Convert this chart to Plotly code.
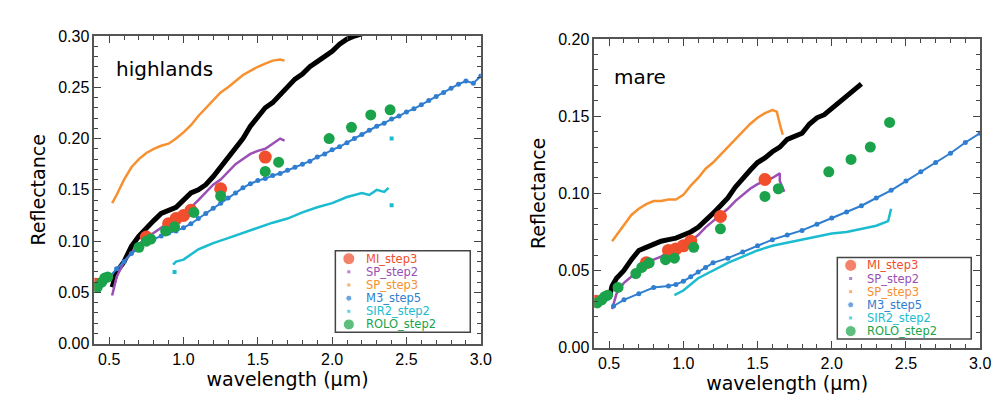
import plotly.graph_objects as go

# ---------------- highlands ----------------
h_lab_x = [0.52,0.55,0.6,0.65,0.7,0.75,0.8,0.85,0.9,0.95,1.0,1.05,1.1,1.15,1.2,1.25,1.3,1.35,1.4,1.45,1.5,1.55,1.6,1.65,1.7,1.75,1.8,1.85,1.9,1.95,2.0,2.05,2.1,2.15,2.2]
h_lab_y = [0.055,0.07,0.08,0.095,0.105,0.113,0.12,0.127,0.13,0.133,0.14,0.147,0.15,0.155,0.163,0.172,0.182,0.19,0.2,0.212,0.222,0.23,0.235,0.243,0.25,0.258,0.263,0.27,0.275,0.28,0.285,0.292,0.297,0.3,0.302]
h_sp3_x = [0.52,0.55,0.6,0.65,0.7,0.75,0.8,0.85,0.9,0.95,1.0,1.05,1.1,1.15,1.2,1.25,1.3,1.35,1.4,1.45,1.5,1.55,1.6,1.65,1.68]
h_sp3_y = [0.137,0.145,0.16,0.172,0.18,0.186,0.19,0.193,0.195,0.2,0.206,0.213,0.222,0.23,0.238,0.245,0.25,0.256,0.262,0.266,0.27,0.273,0.276,0.277,0.276]
h_sp2_x = [0.52,0.55,0.6,0.65,0.7,0.75,0.8,0.85,0.9,0.95,1.0,1.05,1.1,1.15,1.2,1.25,1.3,1.35,1.4,1.45,1.5,1.55,1.6,1.65,1.68]
h_sp2_y = [0.047,0.065,0.08,0.088,0.097,0.103,0.108,0.113,0.118,0.123,0.128,0.133,0.14,0.148,0.155,0.16,0.168,0.175,0.18,0.185,0.188,0.19,0.195,0.2,0.198]
h_m3_x = [0.5,0.55,0.6,0.65,0.7,0.75,0.8,0.85,0.9,0.95,1.0,1.05,1.1,1.15,1.2,1.25,1.3,1.35,1.4,1.45,1.5,1.55,1.6,1.65,1.7,1.75,1.8,1.85,1.9,1.95,2.0,2.05,2.1,2.15,2.2,2.25,2.3,2.35,2.4,2.45,2.5,2.55,2.6,2.65,2.7,2.75,2.8,2.85,2.9,2.95,3.0]
h_m3_y = [0.065,0.073,0.08,0.088,0.093,0.098,0.102,0.105,0.108,0.11,0.113,0.117,0.122,0.127,0.132,0.137,0.142,0.147,0.152,0.156,0.159,0.161,0.164,0.166,0.169,0.172,0.175,0.178,0.182,0.185,0.189,0.192,0.196,0.2,0.204,0.208,0.212,0.215,0.219,0.222,0.226,0.229,0.233,0.237,0.241,0.245,0.249,0.253,0.256,0.254,0.261]
h_sir_x = [0.93,0.95,1.0,1.05,1.1,1.15,1.2,1.3,1.4,1.5,1.6,1.7,1.8,1.9,2.0,2.1,2.2,2.25,2.3,2.35,2.38]
h_sir_y = [0.077,0.08,0.082,0.087,0.092,0.095,0.098,0.103,0.108,0.113,0.118,0.122,0.128,0.133,0.137,0.143,0.147,0.145,0.15,0.148,0.152]
h_sir_out_x = [0.94,2.4,2.4]
h_sir_out_y = [0.07,0.2,0.135]
h_mi_x = [0.41,0.75,0.9,0.95,1.0,1.05,1.25,1.55]
h_mi_y = [0.058,0.104,0.117,0.122,0.125,0.13,0.151,0.182]
h_rolo_x = [0.42,0.45,0.47,0.49,0.7,0.75,0.78,0.88,0.94,1.07,1.25,1.55,1.64,1.98,2.13,2.26,2.39]
h_rolo_y = [0.055,0.06,0.064,0.065,0.094,0.1,0.102,0.11,0.114,0.128,0.144,0.168,0.177,0.2,0.211,0.223,0.228]

# ---------------- mare ----------------
m_lab_x = [0.5,0.52,0.55,0.6,0.65,0.7,0.75,0.8,0.85,0.9,0.95,1.0,1.05,1.1,1.15,1.2,1.25,1.3,1.35,1.4,1.45,1.5,1.55,1.6,1.65,1.7,1.75,1.8,1.85,1.9,1.95,2.0,2.05,2.1,2.15,2.2]
m_lab_y = [0.032,0.04,0.045,0.05,0.057,0.063,0.065,0.067,0.069,0.07,0.071,0.073,0.075,0.078,0.082,0.087,0.092,0.097,0.104,0.11,0.115,0.12,0.123,0.127,0.13,0.135,0.137,0.139,0.145,0.149,0.151,0.155,0.16,0.163,0.167,0.171]
m_sp3_x = [0.52,0.55,0.6,0.65,0.7,0.75,0.8,0.85,0.9,0.95,1.0,1.05,1.1,1.15,1.2,1.25,1.3,1.35,1.4,1.45,1.5,1.55,1.6,1.63,1.65,1.67]
m_sp3_y = [0.069,0.073,0.08,0.086,0.09,0.093,0.095,0.095,0.096,0.096,0.099,0.105,0.11,0.116,0.12,0.125,0.13,0.135,0.14,0.145,0.149,0.152,0.154,0.153,0.145,0.138]
m_sp2_x = [0.52,0.55,0.6,0.65,0.7,0.75,0.8,0.85,0.9,0.95,1.0,1.05,1.1,1.15,1.2,1.25,1.3,1.35,1.4,1.45,1.5,1.55,1.6,1.65,1.65,1.68]
m_sp2_y = [0.025,0.035,0.042,0.046,0.05,0.054,0.057,0.059,0.062,0.065,0.067,0.069,0.073,0.078,0.082,0.086,0.09,0.095,0.099,0.103,0.106,0.108,0.11,0.113,0.108,0.101]
m_m3_x = [0.53,0.6,0.7,0.8,0.9,0.95,1.0,1.05,1.1,1.15,1.2,1.3,1.4,1.5,1.6,1.7,1.8,1.9,2.0,2.1,2.2,2.3,2.4,2.5,2.6,2.7,2.8,2.9,3.0]
m_m3_y = [0.027,0.031,0.035,0.039,0.04,0.041,0.043,0.046,0.049,0.052,0.055,0.058,0.062,0.066,0.07,0.073,0.076,0.08,0.084,0.088,0.092,0.097,0.102,0.108,0.114,0.12,0.126,0.133,0.139]
m_sir_x = [0.94,1.0,1.1,1.2,1.3,1.4,1.5,1.6,1.7,1.8,1.9,2.0,2.1,2.2,2.3,2.38,2.4]
m_sir_y = [0.034,0.037,0.045,0.05,0.055,0.059,0.063,0.066,0.068,0.07,0.072,0.074,0.075,0.077,0.079,0.082,0.09]
m_mi_x = [0.41,0.75,0.9,0.95,1.0,1.05,1.25,1.55]
m_mi_y = [0.03,0.055,0.063,0.064,0.066,0.069,0.085,0.109]
m_rolo_x = [0.42,0.45,0.47,0.49,0.56,0.68,0.72,0.77,0.88,0.94,1.07,1.25,1.55,1.64,1.98,2.13,2.26,2.39]
m_rolo_y = [0.029,0.031,0.033,0.034,0.039,0.048,0.052,0.055,0.057,0.058,0.065,0.077,0.098,0.103,0.114,0.122,0.13,0.146]

legend_names = ["MI_step3", "SP_step2", "SP_step3", "M3_step5", "SIR2_step2", "ROLO_step2"]

RED, PUR, ORA, BLU, CYA, GRN = "#f04e2c", "#9b4fb5", "#f7902f", "#2f7ed0", "#1bbcd0", "#1aa34a"
leg_colors = [RED, PUR, ORA, BLU, CYA, GRN]
leg_sizes = [12, 4, 4, 6, 4, 11]

fig = go.Figure()
panels = [
    ("x", "y", "x3", "y3", h_lab_x, h_lab_y, h_sp3_x, h_sp3_y, h_sp2_x, h_sp2_y, h_m3_x, h_m3_y, h_sir_x, h_sir_y, h_mi_x, h_mi_y, h_rolo_x, h_rolo_y),
    ("x2", "y2", "x4", "y4", m_lab_x, m_lab_y, m_sp3_x, m_sp3_y, m_sp2_x, m_sp2_y, m_m3_x, m_m3_y, m_sir_x, m_sir_y, m_mi_x, m_mi_y, m_rolo_x, m_rolo_y),
]
for (xa, ya, lxa, lya, lx, ly, s3x, s3y, s2x, s2y, mx, my, sx, sy, mix, miy, rx, ry) in panels:
    kw = dict(showlegend=False, xaxis=xa, yaxis=ya, hoverinfo="skip")
    fig.add_trace(go.Scatter(x=lx, y=ly, mode="lines", line=dict(color="black", width=5), **kw))
    fig.add_trace(go.Scatter(x=s3x, y=s3y, mode="lines", line=dict(color=ORA, width=2.5), **kw))
    fig.add_trace(go.Scatter(x=s2x, y=s2y, mode="lines", line=dict(color=PUR, width=2.5), **kw))
    fig.add_trace(go.Scatter(x=mx, y=my, mode="lines+markers", line=dict(color=BLU, width=2), marker=dict(size=5, color=BLU), **kw))
    fig.add_trace(go.Scatter(x=sx, y=sy, mode="lines", line=dict(color=CYA, width=2.5), **kw))
    if xa == "x":
        fig.add_trace(go.Scatter(x=h_sir_out_x, y=h_sir_out_y, mode="markers", marker=dict(color=CYA, size=4, symbol="square"), **kw))
    fig.add_trace(go.Scatter(x=mix, y=miy, mode="markers", marker=dict(color=RED, size=13), **kw))
    fig.add_trace(go.Scatter(x=rx, y=ry, mode="markers", marker=dict(color=GRN, size=11), **kw))
    # manual legend inside a small overlay axis (rows 0..5 top to bottom)
    rows = list(range(len(legend_names)))
    fig.add_trace(go.Scatter(x=[0.5] * len(rows), y=rows, mode="markers",
                             marker=dict(color=leg_colors, size=leg_sizes, symbol=["square" if s == 4 else "circle" for s in leg_sizes]),
                             showlegend=False, xaxis=lxa, yaxis=lya, hoverinfo="skip"))
    for r, name, c in zip(rows, legend_names, leg_colors):
        fig.add_annotation(text=name, x=1.05, y=r, xref=lxa, yref=lya, xanchor="left", showarrow=False,
                           font=dict(size=11.5, family="DejaVu Sans", color=c))

ax = dict(range=[0.4, 3.0], tickvals=[0.5, 1.0, 1.5, 2.0, 2.5, 3.0], ticktext=["0.5", "1.0", "1.5", "2.0", "2.5", "3.0"],
          ticks="inside", ticklen=7, mirror="allticks", showline=True, linecolor="#555", linewidth=1.5, showgrid=False, zeroline=False,
          minor=dict(ticks="inside", ticklen=4, dtick=0.1, showgrid=False),
          title=dict(text="wavelength (\u03bcm)", font=dict(size=19, family="DejaVu Sans", color="black"), standoff=2),
          tickfont=dict(size=16, family="Liberation Sans", color="black"))
ay = dict(ticks="inside", ticklen=7, mirror="allticks", showline=True, linecolor="#555", linewidth=1.5, showgrid=False, zeroline=False,
          minor=dict(ticks="inside", ticklen=4, dtick=0.01, showgrid=False), tickformat=".2f",
          title=dict(text="Reflectance", font=dict(size=19, family="DejaVu Sans", color="black"), standoff=8),
          tickfont=dict(size=16, family="Liberation Sans", color="black"))
lax = dict(range=[0, 5], visible=False, showgrid=False, zeroline=False, fixedrange=True)
lay = dict(range=[5.6, -0.6], visible=False, showgrid=False, zeroline=False, fixedrange=True)
fig.update_layout(
    width=1003, height=409, margin=dict(l=0, r=0, t=0, b=0), plot_bgcolor="rgba(0,0,0,0)", paper_bgcolor="white",
    font=dict(color="black"),
    xaxis=dict(ax, domain=[0.087, 0.4766], anchor="y"),
    yaxis=dict(ay, domain=[0.164, 0.949], range=[0, 0.30], dtick=0.05, anchor="x"),
    xaxis2=dict(ax, domain=[0.591, 0.980], anchor="y2"),
    yaxis2=dict(ay, domain=[0.154, 0.941], range=[0, 0.20], dtick=0.05, anchor="x2"),
    xaxis3=dict(lax, domain=[0.330, 0.466], anchor="y3"),
    yaxis3=dict(lay, domain=[0.193, 0.401], anchor="x3"),
    xaxis4=dict(lax, domain=[0.836, 0.971], anchor="y4"),
    yaxis4=dict(lay, domain=[0.176, 0.384], anchor="x4"),
    showlegend=False,
    shapes=[
        dict(type="rect", xref="paper", yref="paper", x0=0.330, x1=0.466, y0=0.193, y1=0.401, line=dict(color="#444", width=1.5), fillcolor="white", layer="below"),
        dict(type="rect", xref="paper", yref="paper", x0=0.836, x1=0.971, y0=0.176, y1=0.384, line=dict(color="#444", width=1.5), fillcolor="white", layer="below"),
    ],
)
fig.add_annotation(text="highlands", x=0.107, y=0.90, xref="paper", yref="paper", showarrow=False, xanchor="left", font=dict(size=20, family="DejaVu Sans"))
fig.add_annotation(text="mare", x=0.609, y=0.88, xref="paper", yref="paper", showarrow=False, xanchor="left", font=dict(size=20, family="DejaVu Sans"))
fig.write_html("out.html")
